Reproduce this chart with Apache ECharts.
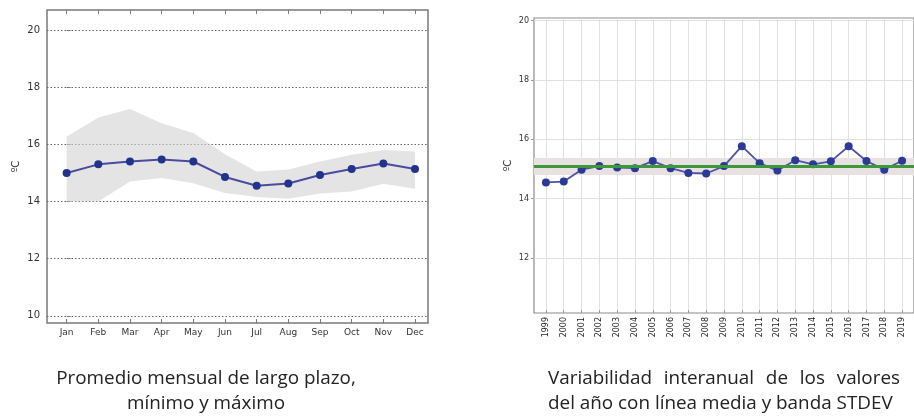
<!DOCTYPE html>
<html><head><meta charset="utf-8">
<script src="https://cdn.jsdelivr.net/npm/echarts@6/dist/echarts.min.js"></script>
<style>html,body{margin:0;padding:0;background:#fff}#c{width:914px;height:416px}</style>
</head><body><div id="c"></div>
<script>
// ---- Left chart data: long-term monthly mean, min and max ----
const months = ['Jan','Feb','Mar','Apr','May','Jun','Jul','Aug','Sep','Oct','Nov','Dec'];
const monthlyMean = [15.0, 15.3, 15.4, 15.47, 15.4, 14.86, 14.55, 14.63, 14.93, 15.14, 15.33, 15.14];
const monthlyMax  = [16.27, 16.94, 17.24, 16.74, 16.4, 15.65, 15.05, 15.12, 15.4, 15.64, 15.8, 15.75];
const monthlyMin  = [14.0, 14.0, 14.7, 14.82, 14.64, 14.3, 14.16, 14.1, 14.28, 14.35, 14.62, 14.45];
const leftYTicks = [10, 12, 14, 16, 18, 20];

// ---- Right chart data: inter-annual variability ----
const years = [1999,2000,2001,2002,2003,2004,2005,2006,2007,2008,2009,2010,2011,2012,2013,2014,2015,2016,2017,2018,2019];
const annualMean = [14.55, 14.58, 14.98, 15.1, 15.05, 15.03, 15.27, 15.03, 14.87, 14.85, 15.1, 15.77, 15.2, 14.95, 15.3, 15.16, 15.26, 15.77, 15.27, 14.98, 15.28];
const overallMean = 15.08;
const stdevLow = 14.8;
const stdevHigh = 15.37;
const rightYTicks = [12, 14, 16, 18, 20];

// ---- Texts ----
const unitLabel = 'ºC';
const captionLeft = ['Promedio mensual de largo plazo,', 'mínimo y máximo'];
const captionRight = ['Variabilidad interanual de los valores', 'del año con línea media y banda STDEV'];

const monthIdx = months.map((m, i) => i);
const capFamily = '"Open Sans", "Noto Sans", sans-serif';
const ctx = document.createElement('canvas').getContext('2d');
function textW(t, size) { ctx.font = size + 'px ' + capFamily; return ctx.measureText(t).width; }
const capSize = 100 * 345 / textW(captionRight[1], 100);

const graphics = [];
captionLeft.forEach((t, i) => {
  graphics.push({type:'text', left: 206 - textW(t, capSize)/2, top: 369 + i*25,
    style:{text:t, font: capSize.toFixed(2)+'px '+capFamily, fill:'#222'}});
});
(function(){
  const words = captionRight[0].split(' ');
  const ws = words.map(w => textW(w, capSize));
  const total = 352;
  const gap = (total - ws.reduce((a,b)=>a+b,0)) / (words.length - 1);
  let x = 548;
  words.forEach((w, i) => {
    graphics.push({type:'text', left: x, top: 369, style:{text:w, font: capSize.toFixed(2)+'px '+capFamily, fill:'#222'}});
    x += ws[i] + gap;
  });
  graphics.push({type:'text', left: 548, top: 394, style:{text:captionRight[1], font: capSize.toFixed(2)+'px '+capFamily, fill:'#222'}});
})();

function renderBand(params, api) {
  if (params.dataIndex !== 0) return null;
  const top = monthIdx.map(i => api.coord([i, monthlyMax[i]]));
  const bot = monthIdx.slice().reverse().map(i => api.coord([i, monthlyMin[i]]));
  return {type:'polygon', shape:{points: top.concat(bot)},
    style:{fill:'#d2d2d2', opacity:0.6}};
}

const chart = echarts.init(document.getElementById('c'), null, {renderer:'canvas'});
chart.setOption({
  animation: false,
  backgroundColor: '#fff',
  textStyle: {fontFamily: '"DejaVu Sans", sans-serif'},
  grid: [
    {left:47, top:10, width:381, height:313, show:true, borderColor:'#7a7a7a', borderWidth:1.5},
    {left:534, top:18, width:383, height:295, show:true, borderColor:'#8c8c8c', borderWidth:1.2}
  ],
  xAxis: [
    {type:'value', gridIndex:0, min:-0.62, max:11.41,
      axisLine:{show:false},
      axisTick:{show:true, inside:true, length:4, customValues: monthIdx, lineStyle:{color:'#777'}},
      axisLabel:{customValues: monthIdx, formatter: v => months[v], fontSize:9, color:'#333', margin:5},
      splitLine:{show:false}},
    {type:'value', gridIndex:0, position:'top', min:-0.62, max:11.41,
      axisLine:{show:false},
      axisTick:{show:true, inside:true, length:4, customValues: monthIdx, lineStyle:{color:'#777'}},
      axisLabel:{show:false}, splitLine:{show:false}},
    {type:'value', gridIndex:1, min:1998.33, max:2019.67,
      axisLine:{show:false},
      axisTick:{show:true, inside:true, length:3, customValues: years, lineStyle:{color:'#999'}},
      axisLabel:{customValues: years, formatter: v => String(v), rotate:90, fontSize:8, color:'#222', margin:4},
      splitLine:{show:true, lineStyle:{color:'#e0e0e0', width:1}}}
  ],
  yAxis: [
    {type:'value', gridIndex:0, min:9.75, max:20.7,
      axisLine:{show:false},
      axisTick:{show:true, inside:true, length:4, customValues: leftYTicks, lineStyle:{color:'#777'}},
      axisLabel:{customValues: leftYTicks, fontSize:10, color:'#333', margin:7},
      splitLine:{show:true, lineStyle:{color:'#666', width:1, type:[1.5,2]}},
      name: unitLabel, nameLocation:'middle', nameGap:26, nameRotate:90,
      nameTextStyle:{fontSize:10, color:'#333'}},
    {type:'value', gridIndex:1, min:10.15, max:20.09,
      axisLine:{show:false},
      axisTick:{show:true, inside:false, length:3, customValues: rightYTicks, lineStyle:{color:'#999'}},
      axisLabel:{customValues: rightYTicks, fontSize:8, color:'#333', margin:5},
      splitLine:{show:true, lineStyle:{color:'#e0e0e0', width:1}},
      name: unitLabel, nameLocation:'middle', nameGap:21, nameRotate:90,
      nameTextStyle:{fontSize:10, color:'#333'}}
  ],
  series: [
    {type:'custom', xAxisIndex:0, yAxisIndex:0, renderItem: renderBand, silent:true, z:1,
      encode:{x:0, y:[1,2]},
      data: monthIdx.map(i => [i, monthlyMin[i], monthlyMax[i]])},
    {type:'line', xAxisIndex:0, yAxisIndex:0, symbol:'circle', symbolSize:8,
      lineStyle:{color:'#4a4a9e', width:2}, itemStyle:{color:'#22338c'},
      data: monthIdx.map(i => [i, monthlyMean[i]]), z:3},
    {type:'line', xAxisIndex:2, yAxisIndex:1, symbol:'none', lineStyle:{opacity:0}, silent:true, z:1,
      data: years.map((y, i) => [y, annualMean[i]]),
      markArea:{silent:true, itemStyle:{color:'#e9e1e1'}, data:[[{yAxis: stdevLow}, {yAxis: stdevHigh}]]},
      markLine:{silent:true, symbol:'none', label:{show:false},
        lineStyle:{color:'#3a9a3a', width:3, type:'solid'}, data:[{yAxis: overallMean}]}},
    {type:'line', xAxisIndex:2, yAxisIndex:1, symbol:'circle', symbolSize:8,
      lineStyle:{color:'#5252a8', width:1.8}, itemStyle:{color:'#2a3a96'},
      data: years.map((y, i) => [y, annualMean[i]]), z:3}
  ],
  graphic: graphics
});
</script>
</body></html>
